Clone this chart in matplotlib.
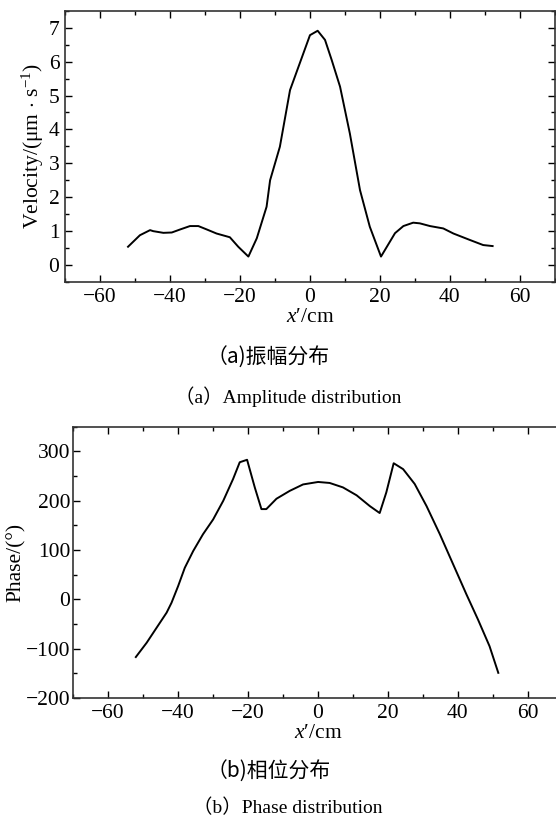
import matplotlib
matplotlib.use('Agg')
import matplotlib.pyplot as plt
from matplotlib.ticker import MultipleLocator

plt.rcParams['font.family'] = ['Liberation Serif', 'Noto Sans CJK SC']
plt.rcParams['mathtext.fontset'] = 'custom'
plt.rcParams['mathtext.rm'] = 'Liberation Serif'
plt.rcParams['mathtext.it'] = 'Liberation Serif:italic'

# (a) amplitude distribution
x_amp = [-52, -48.6, -45.7, -44.8, -41.9, -39.5, -37.1, -34.3, -31.9, -29.5, -26.7,
         -22.9, -20.5, -17.6, -15.2, -12.4, -11.4, -8.6, -5.7, -1.9, 0, 2.2, 4.3,
         6.2, 8.6, 11.4, 14.3, 17.1, 20.3, 24.3, 26.7, 29.5, 31.4, 34.3, 38.1,
         41, 45.7, 49.5, 52.2]
v_amp = [0.54, 0.88, 1.03, 1.0, 0.95, 0.96, 1.05, 1.15, 1.15, 1.05, 0.93,
         0.82, 0.54, 0.25, 0.79, 1.72, 2.5, 3.49, 5.16, 6.24, 6.78, 6.91, 6.64,
         6.05, 5.26, 3.88, 2.21, 1.13, 0.25, 0.94, 1.15, 1.25, 1.23, 1.15, 1.08,
         0.93, 0.74, 0.59, 0.56]

# (b) phase distribution
x_ph = [-52, -48.9, -46.1, -43.2, -41.8, -39.9, -38, -35.6, -32.8, -29.9, -27,
        -24.2, -22.3, -20.2, -18, -16.1, -14.7, -11.8, -8, -4.2, 0.1, 3.4,
        7.2, 11.1, 14.9, 17.7, 19.6, 21.7, 24.4, 27.7, 31.1, 34.9, 38.7, 42.5,
        45.8, 49.1, 51.6]
p_ph = [-117, -88, -58, -27, -7, 27, 64, 98, 132, 162, 200,
        244, 278, 283, 227, 183, 183, 204, 220, 233, 238, 236,
        227, 211, 189, 175, 217, 276, 264, 234, 189, 132, 71, 10,
        -41, -95, -149]

fig = plt.figure(figsize=(5.56, 8.27), dpi=100)
ax1 = fig.add_axes([0.117, 0.659, 0.881, 0.328])
ax2 = fig.add_axes([0.131, 0.156, 0.881, 0.328])

ax1.plot(x_amp, v_amp, color='black', lw=1.4)
ax2.plot(x_ph, p_ph, color='black', lw=1.4)

for ax in (ax1, ax2):
    ax.set_xlim(-70, 70)
    ax.xaxis.set_major_locator(MultipleLocator(20))
    ax.xaxis.set_minor_locator(MultipleLocator(10))
    ax.tick_params(which='both', direction='in', top=True, right=True,
                   labelsize=15.5, pad=4)
    ax.tick_params(which='major', length=5, width=1)
    ax.tick_params(which='minor', length=3, width=1)
    for s in ax.spines.values():
        s.set_linewidth(1.2)
        s.set_color('#333333')
    ax.set_xlabel('$x$′/cm', fontsize=15.5, labelpad=1)

ax1.set_ylim(-0.5, 7.5)
ax1.yaxis.set_major_locator(MultipleLocator(1))
ax1.yaxis.set_minor_locator(MultipleLocator(0.5))
ax1.set_ylabel(r'Velocity/(μm$\,\cdot\,$s$^{-1}$)', fontsize=15.5, labelpad=2)

ax2.set_ylim(-200, 350)
ax2.yaxis.set_major_locator(MultipleLocator(100))
ax2.yaxis.set_minor_locator(MultipleLocator(50))
ax2.tick_params(axis='y', pad=2)
ax2.set_ylabel('Phase/(°)', fontsize=15.5, labelpad=0)

fig.text(0.483, 1 - 358 / 827, '（a)振幅分布', fontsize=15, ha='center', va='center',
         family=['Noto Sans CJK SC'])
fig.text(0.518, 1 - 397 / 827, '（a）Amplitude distribution', fontsize=14,
         ha='center', va='center')
fig.text(0.483, 1 - 772 / 827, '（b)相位分布', fontsize=15, ha='center', va='center',
         family=['Noto Sans CJK SC'])
fig.text(0.518, 1 - 808 / 827, '（b）Phase distribution', fontsize=14,
         ha='center', va='center')

fig.savefig('out.png', dpi=100)
